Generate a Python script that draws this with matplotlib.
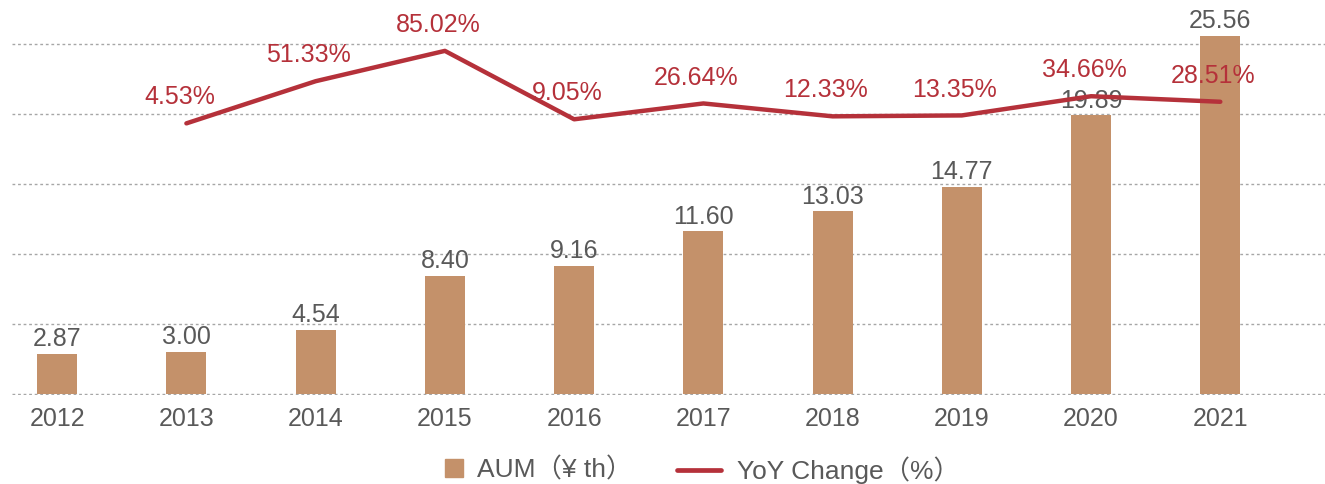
import matplotlib.pyplot as plt
from matplotlib.lines import Line2D

# data
years = ["2012", "2013", "2014", "2015", "2016", "2017", "2018", "2019", "2020", "2021"]
aum = [2.87, 3.00, 4.54, 8.40, 9.16, 11.60, 13.03, 14.77, 19.89, 25.56]
yoy_years = years[1:]
yoy = [4.53, 51.33, 85.02, 9.05, 26.64, 12.33, 13.35, 34.66, 28.51]

bar_color = "#C4916A"
line_color = "#B5313A"
gray = "#595959"
fs = 18
lfs = 19

plt.rcParams["font.family"] = ["Liberation Sans", "Noto Sans CJK SC", "DejaVu Sans"]

fig = plt.figure(figsize=(13.25, 4.84), dpi=100)
ax = fig.add_axes([0.009, 0.184, 0.991, 0.816])

x = list(range(len(years)))
ax.bar(x, aum, width=0.31, color=bar_color, zorder=2)
for xi, v in zip(x, aum):
    ax.annotate(f"{v:.2f}", (xi, v), xytext=(0, 2), textcoords="offset points",
                ha="center", va="bottom", fontsize=fs, color=gray)

ax.set_ylim(-0.08, 28.13)
ax.set_xlim(-0.35, 9.81)
ax.set_yticks([0, 5, 10, 15, 20, 25])
ax.yaxis.grid(True, linestyle=(0, (2, 2)), color="#A6A6A6", linewidth=1, zorder=0)
ax.set_axisbelow(True)
ax.set_yticklabels([])
ax.tick_params(axis="y", length=0)
ax.set_xticks(x)
ax.set_xticklabels(years, fontsize=fs, color=gray)
ax.tick_params(axis="x", length=0, pad=9)
for s in ax.spines.values():
    s.set_visible(False)

# yoy line on a secondary axis
ax2 = ax.twinx()
x2 = x[1:]
ax2.plot(x2, yoy, color=line_color, linewidth=3.2, solid_capstyle="round", zorder=3)
ax2.set_ylim(-297, 141.5)
ax2.set_yticks([])
for s in ax2.spines.values():
    s.set_visible(False)
for xi, v in zip(x2, yoy):
    ax2.annotate(f"{v:.2f}%", (xi, v), xytext=(-5, 10), textcoords="offset points",
                 ha="center", va="bottom", fontsize=fs, color=line_color)

# legend, two pieces so each handle gets its own width
ly = 1 - 470 / 484
leg1 = fig.legend([Line2D([], [], marker="s", linestyle="none", markersize=13, color=bar_color)],
                  ["AUM（¥ th）"], loc="center left", bbox_to_anchor=(445 / 1325, ly),
                  frameon=False, fontsize=lfs, labelcolor=gray, borderpad=0, borderaxespad=0,
                  handlelength=0.68, handletextpad=0.53)
leg2 = fig.legend([Line2D([], [], color=line_color, linewidth=3.4, solid_capstyle="round")],
                  ["YoY Change（%）"], loc="center left", bbox_to_anchor=(677 / 1325, ly),
                  frameon=False, fontsize=lfs, labelcolor=gray, borderpad=0, borderaxespad=0,
                  handlelength=1.67, handletextpad=0.6)

fig.savefig("out.png", dpi=100)
